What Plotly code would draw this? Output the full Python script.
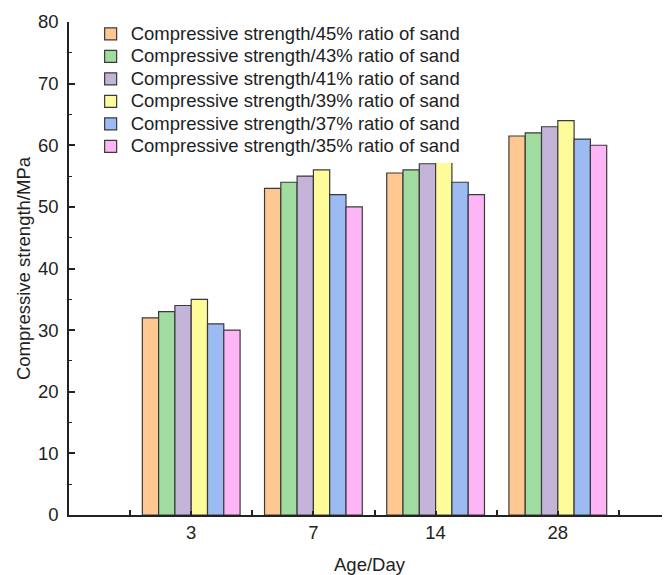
import plotly.graph_objects as go

ages = ["3", "7", "14", "28"]
series_names = [
    "Compressive strength/45% ratio of sand",
    "Compressive strength/43% ratio of sand",
    "Compressive strength/41% ratio of sand",
    "Compressive strength/39% ratio of sand",
    "Compressive strength/37% ratio of sand",
    "Compressive strength/35% ratio of sand",
]
sand45 = [32, 53, 55.5, 61.5]
sand43 = [33, 54, 56, 62]
sand41 = [34, 55, 57, 63]
sand39 = [35, 56, 58, 64]
sand37 = [31, 52, 54, 61]
sand35 = [30, 50, 52, 60]
colors = ["#FDC892", "#A0DBA0", "#C4B4DA", "#FEFB9A", "#9BBBF2", "#FDB5F5"]

all_values = [sand45, sand43, sand41, sand39, sand37, sand35]
xpos = list(range(len(ages)))

FONT = "Liberation Sans, Arial, sans-serif"
FS = 18.5

fig = go.Figure()
for name, vals, col in zip(series_names, all_values, colors):
    fig.add_trace(go.Bar(
        x=xpos, y=vals,
        name='<span style="font-size:18.5px">' + name + '</span>',
        marker=dict(color=col, line=dict(color="#3a3a3a", width=1.2)),
    ))

# page body has an 8px margin, so the figure is sized to fit the 670x575 window
fig.update_layout(
    width=662, height=567,
    margin=dict(l=61, r=0, t=14, b=60),
    paper_bgcolor="white", plot_bgcolor="white",
    barmode="group", bargap=0.2, bargroupgap=0,
    font=dict(family=FONT, size=FS, color="#222"),
    legend=dict(
        x=0.036, y=1.009, xanchor="left", yanchor="top",
        bgcolor="white", borderwidth=0,
        font=dict(family=FONT, size=15, color="#222"),
        itemwidth=30, tracegroupgap=0,
    ),
    xaxis=dict(
        range=[-1, 3.918], showgrid=False, zeroline=False, automargin=False,
        showline=True, linecolor="#222", linewidth=1.5,
        tickmode="array", tickvals=xpos, ticktext=ages,
        ticks="inside", ticklen=4, tickcolor="#222", tickwidth=1.5,
        ticklabelstandoff=0,
        minor=dict(tickmode="array", tickvals=[-0.5, 0.5, 1.5, 2.5, 3.5],
                   ticks="inside", ticklen=5, tickcolor="#222", tickwidth=1.5),
        tickfont=dict(size=FS),
        title=dict(text="Age/Day", font=dict(size=FS), standoff=16),
    ),
    yaxis=dict(
        range=[0, 80], showgrid=False, zeroline=False, automargin=False,
        showline=True, linecolor="#222", linewidth=1.5,
        tickmode="linear", tick0=0, dtick=10,
        ticks="inside", ticklen=6, tickcolor="#222", tickwidth=1.5,
        ticklabelstandoff=5,
        minor=dict(dtick=5, ticks="inside", ticklen=3, tickcolor="#222", tickwidth=1.2),
        tickfont=dict(size=FS),
        title=dict(text="Compressive strength/MPa", font=dict(size=FS), standoff=2),
    ),
)

fig.write_html("out.html")
